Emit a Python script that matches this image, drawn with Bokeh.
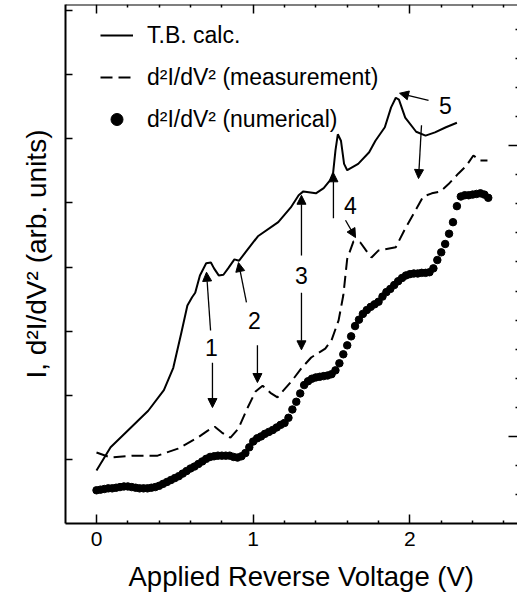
import numpy as np
from bokeh.plotting import figure
from bokeh.models import (Range1d, LinearAxis, FixedTicker, Legend, LegendItem,
                          Title, Arrow, NormalHead, ColumnDataSource)
from bokeh.core.properties import value
from bokeh.embed import file_html
from bokeh.resources import INLINE

FONT = "Liberation Sans"

# ---- data ----
calc_v = [0.00, 0.09, 0.22, 0.33, 0.43, 0.49, 0.54, 0.58, 0.61, 0.63,
          0.66, 0.70, 0.73, 0.75, 0.78, 0.81, 0.84, 0.88, 0.91, 0.96,
          1.03, 1.16, 1.24, 1.29, 1.32, 1.40, 1.45, 1.49, 1.51, 1.525,
          1.54, 1.56, 1.58, 1.60, 1.67, 1.74, 1.78, 1.84, 1.88, 1.91,
          1.93, 1.97, 2.04, 2.10, 2.16, 2.23, 2.30]
calc_y = [-0.17, 0.19, 0.50, 0.76, 1.08, 1.43, 1.96, 2.40, 2.53, 2.60,
          2.87, 3.06, 3.07, 2.98, 2.87, 2.88, 2.98, 3.12, 3.10, 3.26,
          3.48, 3.70, 3.93, 4.12, 4.18, 4.15, 4.23, 4.35, 4.47, 4.82,
          5.07, 4.97, 4.61, 4.51, 4.61, 4.79, 4.97, 5.18, 5.49, 5.64,
          5.61, 5.33, 5.11, 5.05, 5.10, 5.18, 5.25]

meas_v = [0.00, 0.09, 0.24, 0.39, 0.52, 0.645, 0.71, 0.755, 0.80, 0.855,
          0.905, 0.965, 1.015, 1.06, 1.11, 1.155, 1.245, 1.31, 1.37, 1.46,
          1.50, 1.545, 1.575, 1.60, 1.64, 1.685, 1.72, 1.755, 1.80, 1.91,
          1.97, 2.035, 2.085, 2.14, 2.195, 2.245, 2.31, 2.36, 2.405, 2.45,
          2.495]
meas_y = [0.11, 0.03, 0.06, 0.06, 0.17, 0.34, 0.45, 0.51, 0.42, 0.34,
          0.48, 0.81, 1.06, 1.15, 1.04, 0.97, 1.22, 1.43, 1.59, 1.73,
          1.86, 2.17, 2.56, 3.13, 3.40, 3.38, 3.26, 3.15, 3.26, 3.31,
          3.60, 3.88, 4.10, 4.15, 4.18, 4.29, 4.46, 4.58, 4.74, 4.66,
          4.66]

num_v = [0.000, 0.025, 0.050, 0.075, 0.100, 0.125, 0.150, 0.175, 0.200, 0.225,
         0.250, 0.275, 0.300, 0.325, 0.350, 0.375, 0.400, 0.425, 0.450, 0.475,
         0.500, 0.525, 0.550, 0.575, 0.600, 0.625, 0.650, 0.675, 0.700, 0.725,
         0.750, 0.775, 0.800, 0.825, 0.850, 0.875, 0.900, 0.925, 0.950, 0.975,
         1.000, 1.025, 1.050, 1.075, 1.100, 1.125, 1.150, 1.175, 1.200, 1.225,
         1.250, 1.275, 1.300, 1.325, 1.350, 1.375, 1.400, 1.425, 1.450, 1.475,
         1.500, 1.525, 1.550, 1.575, 1.600, 1.625, 1.650, 1.675, 1.700, 1.725,
         1.750, 1.775, 1.800, 1.825, 1.850, 1.875, 1.900, 1.925, 1.950, 1.975,
         2.000, 2.025, 2.050, 2.075, 2.100, 2.125, 2.150, 2.175, 2.200, 2.225,
         2.250, 2.275, 2.300, 2.325, 2.350, 2.375, 2.400, 2.425, 2.450, 2.475,
         2.500]
num_y = [-0.48, -0.47, -0.46, -0.45, -0.45, -0.44, -0.43, -0.42, -0.42, -0.43,
         -0.44, -0.45, -0.45, -0.45, -0.44, -0.43, -0.41, -0.38, -0.35, -0.32,
         -0.29, -0.26, -0.22, -0.18, -0.14, -0.11, -0.07, -0.03, 0.01, 0.04,
         0.05, 0.06, 0.06, 0.06, 0.06, 0.04, 0.03, 0.05, 0.10, 0.19,
         0.28, 0.33, 0.36, 0.40, 0.43, 0.46, 0.50, 0.54, 0.57, 0.65,
         0.78, 0.90, 1.03, 1.16, 1.22, 1.26, 1.28, 1.29, 1.30, 1.31,
         1.33, 1.39, 1.50, 1.64, 1.78, 1.92, 2.08, 2.18, 2.27, 2.33,
         2.38, 2.42, 2.46, 2.54, 2.61, 2.66, 2.72, 2.78, 2.83, 2.87,
         2.89, 2.90, 2.90, 2.91, 2.91, 2.92, 2.98, 3.11, 3.23, 3.36,
         3.52, 3.70, 3.95, 4.10, 4.12, 4.12, 4.13, 4.14, 4.15, 4.13,
         4.08]

series_names = ["T.B. calc.", "d\u00b2I/dV\u00b2 (measurement)", "d\u00b2I/dV\u00b2 (numerical)"]
x_label = "Applied Reverse Voltage (V)"
y_label = "I, d\u00b2I/dV\u00b2 (arb. units)"

x_ticks = [0, 1, 2]
x_minor = [0.2, 0.4, 0.6, 0.8, 1.2, 1.4, 1.6, 1.8, 2.2, 2.4, 2.6]
y_ticks_left = [0, 1, 2, 3, 4, 5, 6, 7]
y_ticks_right = [0, 1]
y_minor_right = [-0.2, -0.1, 0.1, 0.2, 0.3, 0.4, 0.5, 0.6, 0.7, 0.8, 0.9,
                 1.1, 1.2, 1.3, 1.4]

peak_labels = ["1", "2", "3", "4", "5"]
label_v = [0.734, 1.008, 1.308, 1.621, 2.227]
label_y = [1.75, 2.17, 2.87, 3.96, 5.52]

arrow_x0 = [0.728, 0.740, 0.957, 1.027, 1.308, 1.308, 1.512, 1.589, 2.119, 2.074]
arrow_y0 = [2.01, 1.51, 2.45, 1.78, 3.18, 2.60, 3.76, 3.73, 5.60, 5.21]
arrow_x1 = [0.702, 0.740, 0.906, 1.027, 1.308, 1.308, 1.512, 1.653, 1.934, 2.055]
arrow_y1 = [2.92, 0.81, 3.07, 1.20, 4.12, 1.71, 4.47, 3.46, 5.71, 4.38]

# ---- layout (page has no margin: figure fills the window) ----
W, H = 517, 608
frame_top, frame_bottom, frame_left, frame_right = 4, 523, 65, 517
px_per_v = 156.7
x0_px = 96.0
px_per_unit = 64.14
y0_px = 459.0
x_start = (frame_left - x0_px) / px_per_v
x_end = (frame_right - x0_px) / px_per_v
y_start = (y0_px - frame_bottom) / px_per_unit
y_end = (y0_px - frame_top) / px_per_unit
r_unit, r0 = 291.0, 436.0
yr_start = (r0 - frame_bottom) / r_unit
yr_end = (r0 - frame_top) / r_unit

p = figure(width=W, height=H, output_backend="svg", toolbar_location=None,
           x_range=Range1d(x_start, x_end), y_range=Range1d(y_start, y_end),
           min_border_left=frame_left, min_border_right=W - frame_right,
           min_border_top=frame_top, min_border_bottom=H - frame_bottom)
p.extra_y_ranges = {"right": Range1d(yr_start, yr_end)}
p.outline_line_color = None
p.grid.visible = False
p.background_fill_color = "white"
p.border_fill_color = "white"


def blank(axis, ticks):
    axis.major_label_overrides = {t: "" for t in ticks}
    axis.major_label_standoff = 0
    axis.axis_label_standoff = 0


# bottom axis
xa = p.xaxis[0]
xa.ticker = FixedTicker(ticks=x_ticks, minor_ticks=x_minor)
xa.axis_line_width = 2
xa.major_tick_in = 9
xa.major_tick_out = 0
xa.minor_tick_in = 3
xa.minor_tick_out = 0
xa.major_tick_line_width = 1.5
xa.minor_tick_line_width = 1.5
xa.major_label_text_font = FONT
xa.major_label_text_font_size = "21px"
xa.major_label_text_color = "black"
xa.major_label_standoff = 8

# x label as a title below the axis, placed to match the original
xt = Title(text=x_label, align="left", offset=63, standoff=20,
           vertical_align="bottom", text_font=FONT, text_font_size="27.5px",
           text_font_style="normal", text_color="black")
p.add_layout(xt, "below")

# left axis
ya = p.yaxis[0]
ya.ticker = FixedTicker(ticks=y_ticks_left, minor_ticks=[])
ya.axis_line_width = 2
ya.major_tick_in = 7
ya.major_tick_out = 0
ya.major_tick_line_width = 1.5
blank(ya, y_ticks_left)

# top axis, drawn on the frame edge
ta = LinearAxis(ticker=FixedTicker(ticks=x_ticks, minor_ticks=x_minor),
                fixed_location=y_end)
ta.axis_line_width = 2
ta.major_tick_in = 9
ta.major_tick_out = 0
ta.minor_tick_in = 3
ta.minor_tick_out = 0
ta.major_tick_line_width = 1.5
ta.minor_tick_line_width = 1.5
blank(ta, x_ticks)
p.add_layout(ta, "above")

# right axis: only its inward ticks show, its spine lies outside the picture
ra = LinearAxis(y_range_name="right",
                ticker=FixedTicker(ticks=y_ticks_right, minor_ticks=y_minor_right),
                fixed_location=x_end)
ra.axis_line_color = None
ra.major_tick_in = 9
ra.major_tick_out = 0
ra.minor_tick_in = 2
ra.minor_tick_out = 0
ra.major_tick_line_width = 1.5
ra.minor_tick_line_width = 1.5
blank(ra, y_ticks_right)
p.add_layout(ra, "right")

# y label as a side title
yt = Title(text=y_label, align="left", offset=145, standoff=28,
           text_font=FONT, text_font_size="28px", text_font_style="normal",
           text_color="black")
p.add_layout(yt, "left")

# series
r1 = p.line(calc_v, calc_y, line_width=2, line_color="black")
r2 = p.line(meas_v, meas_y, line_width=2, line_color="black", line_dash="12 6")
r3 = p.scatter(num_v, num_y, size=7.5, fill_color="black", line_color="black")

legend = Legend(items=[LegendItem(label=series_names[0], renderers=[r1]),
                       LegendItem(label=series_names[1], renderers=[r2]),
                       LegendItem(label=series_names[2], renderers=[r3])],
                location=(35, 389), glyph_width=33, glyph_height=30,
                label_height=30, spacing=12, padding=0, margin=0,
                label_standoff=14, border_line_color=None,
                background_fill_alpha=0, label_text_font=FONT,
                label_text_font_size="23px", label_text_color="black")
p.add_layout(legend)

# peak labels and arrows
p.text(x=label_v, y=label_y, text=peak_labels, text_font=value(FONT),
       text_font_size="23px", text_align="center", text_baseline="middle",
       text_color="black")
src = ColumnDataSource(dict(x0=arrow_x0, y0=arrow_y0, x1=arrow_x1, y1=arrow_y1))
p.add_layout(Arrow(x_start="x0", y_start="y0", x_end="x1", y_end="y1", source=src,
                   line_width=1.3, line_color="black",
                   end=NormalHead(size=9, fill_color="black", line_color="black")))

open("out.html", "w").write(file_html(p, INLINE))
